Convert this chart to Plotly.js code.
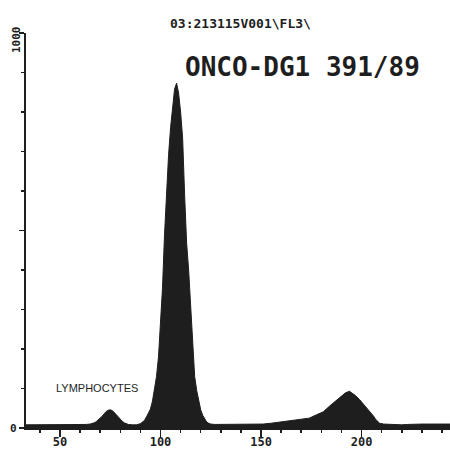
<!DOCTYPE html>
<html>
<head>
<meta charset="utf-8">
<script src="https://cdn.plot.ly/plotly-3.0.1.min.js"></script>
<style>html,body{margin:0;padding:0;background:#fff;}#chart{width:450px;height:452px;}</style>
</head>
<body>
<div id="chart"></div>
<script>
// Channel (FL3 DNA content) positions
const channels = [33, 36, 40, 45, 50, 55, 60, 63, 65, 66, 67, 68, 69, 70, 71, 72, 73, 74, 75, 76, 77, 78, 79, 80, 81, 82, 83, 84, 86, 88,
  90, 91, 92, 93, 94, 95, 96, 97, 98, 99, 100, 101, 102, 103, 104, 105, 106, 107, 108, 109, 110, 111, 112, 113, 114, 115, 116, 117, 118, 119, 120, 121, 122, 123, 124, 125, 127,
  130, 135, 140, 145, 151, 155, 159, 162, 166, 170, 174, 177, 181, 184, 186, 188, 190, 192, 194, 195, 197, 199, 201, 203, 205, 206, 207, 208, 209, 211, 215, 220, 223, 226, 230, 235, 240, 244];
// Cell counts per channel
const counts = [8, 8, 8, 8, 8, 8, 8, 9, 10, 11, 13, 16, 20, 25, 30, 36, 42, 45, 46, 44, 40, 34, 28, 22, 17, 13, 10, 9, 8, 8,
  11, 14, 19, 28, 38, 48, 68, 95, 130, 180, 265, 355, 490, 610, 690, 760, 815, 858, 873, 848, 800, 735, 590, 468, 400, 315, 200, 130, 95, 68, 46, 32, 22, 15, 12, 10, 9,
  9, 9, 9, 9, 10, 12, 15, 17, 20, 22, 25, 32, 41, 55, 63, 72, 80, 89, 93, 90, 82, 72, 60, 50, 38, 30, 22, 16, 12, 10, 9, 8, 9, 10, 10, 10, 10, 10];

const xTickVals = [50, 100, 150, 200];
const xTickText = ["50", "100", "150", "200"];
const yLabels = ["0", "1000"];

const ink = "#1e1e1e";
const data = [{
  x: channels, y: counts, type: "scatter", mode: "lines",
  fill: "tozeroy", fillcolor: ink,
  line: {color: ink, width: 1, shape: "linear"},
  hoverinfo: "skip"
}];

const layout = {
  width: 450, height: 452,
  margin: {l: 26, r: 0, t: 33, b: 24, pad: 0},
  paper_bgcolor: "#fff", plot_bgcolor: "#fff",
  showlegend: false,
  xaxis: {
    range: [33.1, 244], showgrid: false, zeroline: false,
    showline: true, linecolor: ink, linewidth: 2,
    ticks: "outside", ticklen: 7, tickwidth: 1.5, tickcolor: ink,
    tickvals: xTickVals, ticktext: xTickText,
    ticklabelstandoff: -5,
    minor: {dtick: 10, tick0: 0, ticks: "outside", ticklen: 3, tickwidth: 1.5, tickcolor: ink, showgrid: false},
    tickfont: {family: "DejaVu Sans Mono", size: 12, color: ink, weight: "bold"},
    fixedrange: true
  },
  yaxis: {
    range: [0, 1000], showgrid: false, zeroline: false,
    showline: true, linecolor: ink, linewidth: 2,
    ticks: "outside", ticklen: 5, tickwidth: 1.5, tickcolor: ink,
    tickvals: [0, 500, 1000], showticklabels: false,
    minor: {dtick: 100, tick0: 0, ticks: "outside", ticklen: 3, tickwidth: 1.5, tickcolor: ink, showgrid: false},
    fixedrange: true
  },
  annotations: [
    {text: "03:213115V001\\FL3\\", xref: "paper", yref: "paper", x: 0.5, y: 1, xanchor: "center", xshift: 2, yshift: 19,
     showarrow: false, font: {family: "DejaVu Sans Mono", size: 13, color: ink, weight: "bold"}},
    {text: "ONCO-DG1 391/89", xref: "paper", yref: "y", x: 0.651, y: 915, xanchor: "center",
     showarrow: false, font: {family: "DejaVu Sans Mono", size: 26, color: ink, weight: "bold"}},
    {text: "LYMPHOCYTES", xref: "x", yref: "y", x: 68.4, y: 101, xanchor: "center",
     showarrow: false, font: {family: "Liberation Sans", size: 11, color: ink}},
    {text: yLabels[1], xref: "paper", yref: "y", x: 0, y: 1000, xanchor: "center", yanchor: "middle",
     xshift: -10, yshift: -7, textangle: -90,
     showarrow: false, font: {family: "DejaVu Sans Mono", size: 11, color: ink, weight: "bold"}},
    {text: yLabels[0], xref: "paper", yref: "y", x: 0, y: 0, xanchor: "center", yanchor: "middle",
     xshift: -13, yshift: 0,
     showarrow: false, font: {family: "DejaVu Sans Mono", size: 11, color: ink, weight: "bold"}}
  ]
};

Plotly.newPlot("chart", data, layout, {staticPlot: true, displayModeBar: false});
</script>
</body>
</html>
